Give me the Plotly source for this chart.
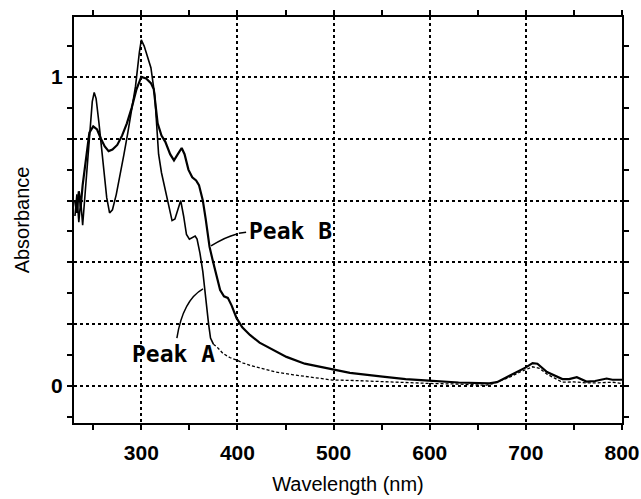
import plotly.graph_objects as go

# ---- data ----
wl_B = [231, 233, 235, 237, 239, 241, 243, 246, 250, 254, 258, 262, 266, 270, 275,
        280, 285, 290, 295, 300, 305, 310, 313, 317, 321, 325, 330, 334, 338, 342,
        345, 349, 353, 357, 360, 364, 367, 371, 374, 378, 382, 386, 390, 394, 399,
        405, 413, 423, 435, 451, 470, 499, 517, 551, 575, 599, 630, 662, 670, 683,
        694, 700, 707, 712, 722, 730, 738, 745, 753, 763, 772, 784, 790, 800]
abs_B = [0.60, 0.56, 0.63, 0.58, 0.65, 0.70, 0.76, 0.82, 0.84, 0.83, 0.80, 0.775, 0.76, 0.765, 0.78,
         0.81, 0.85, 0.90, 0.96, 1.00, 0.995, 0.98, 0.96, 0.85, 0.81, 0.79, 0.75, 0.73, 0.75, 0.77,
         0.75, 0.70, 0.675, 0.665, 0.65, 0.60, 0.54, 0.45, 0.41, 0.36, 0.31, 0.29, 0.285, 0.26, 0.22,
         0.19, 0.165, 0.14, 0.12, 0.094, 0.072, 0.052, 0.042, 0.030, 0.022, 0.017, 0.011, 0.008, 0.012, 0.033,
         0.050, 0.060, 0.074, 0.072, 0.045, 0.034, 0.022, 0.022, 0.028, 0.014, 0.016, 0.024, 0.020, 0.020]

wl_A = [231, 233, 235, 237, 239, 241, 243, 246, 249, 251, 253, 256, 260, 264, 267,
        270, 274, 278, 282, 286, 290, 294, 298, 300, 303, 307, 310, 314, 316, 318,
        321, 325, 329, 332, 335, 338, 341, 344, 347, 350, 353, 356, 358, 361, 364,
        367, 370, 372, 375,
        379, 385, 392, 399, 406, 415, 423, 440, 458, 480, 499, 517, 560, 600, 630,
        658, 665, 683, 694, 700, 707, 714, 722, 730, 738, 750, 763, 775, 790, 800]
abs_A = [0.55, 0.62, 0.53, 0.60, 0.52, 0.60, 0.70, 0.80, 0.92, 0.95, 0.93, 0.85, 0.73, 0.61, 0.56,
         0.57, 0.62, 0.68, 0.75, 0.82, 0.89, 0.97, 1.08, 1.12, 1.10, 1.06, 1.03, 0.94, 0.85, 0.75,
         0.69, 0.63, 0.57, 0.535, 0.54, 0.57, 0.60, 0.55, 0.49, 0.475, 0.48, 0.485, 0.475, 0.43, 0.37,
         0.28, 0.20, 0.155, 0.135,
         0.125, 0.105, 0.092, 0.084, 0.074, 0.065, 0.058, 0.045, 0.036, 0.026, 0.019, 0.018, 0.012, 0.008, 0.006,
         0.002, 0.007, 0.028, 0.045, 0.053, 0.062, 0.057, 0.038, 0.025, 0.012, 0.013, 0.010, 0.010, 0.012, 0.008]
A_dash_from = 375  # Peak A spectrum drawn dashed beyond this wavelength

y_label_alias = {"0.2": "", "0.4": "", "0.6": "", "0.8": ""}

# ---- figure ----
fig = go.Figure()

iA = wl_A.index(A_dash_from)
fig.add_trace(go.Scatter(x=wl_A[:iA + 1], y=abs_A[:iA + 1], mode="lines",
                         line=dict(color="black", width=1.6), showlegend=False))
fig.add_trace(go.Scatter(x=wl_A[iA:], y=abs_A[iA:], mode="lines",
                         line=dict(color="black", width=1.3, dash="3px,2px"), showlegend=False))
fig.add_trace(go.Scatter(x=wl_B, y=abs_B, mode="lines",
                         line=dict(color="black", width=2.2), showlegend=False))

# leader lines
fig.add_shape(type="path", xref="x", yref="y",
              path="M 372.5 0.453 Q 387 0.482 399.5 0.492",
              line=dict(color="black", width=1.5))
fig.add_shape(type="line", xref="x", yref="y", x0=401.5, y0=0.494, x1=409, y1=0.497,
              line=dict(color="black", width=1.5))
fig.add_shape(type="path", xref="x", yref="y",
              path="M 364.2 0.314 Q 343.4 0.278 337 0.155",
              line=dict(color="black", width=1.5))

label_font = dict(family="DejaVu Sans Mono", size=23, color="black", weight="bold")
fig.add_annotation(x=455.7, y=0.502, xref="x", yref="y", text="Peak B",
                   showarrow=False, font=label_font)
fig.add_annotation(x=333, y=0.1036, xref="x", yref="y", text="Peak A",
                   showarrow=False, font=label_font)

tick_font = dict(family="Liberation Sans", size=21, color="black", weight="bold")
title_font = dict(family="Liberation Sans", size=20, color="black")

fig.update_xaxes(range=[230, 800], tickmode="linear", tick0=300, dtick=100,
                 ticks="outside", ticklen=5, tickwidth=1.5, tickcolor="black",
                 ticklabelstandoff=5,
                 showline=True, linewidth=2, linecolor="black", mirror="ticks",
                 showgrid=True, gridcolor="black", griddash="dot", gridwidth=1.5,
                 minor=dict(tick0=250, dtick=50, ticks="outside",
                            ticklen=5, tickwidth=1.5, tickcolor="black", showgrid=False),
                 tickfont=tick_font, zeroline=False,
                 title=dict(text="Wavelength (nm)", font=title_font, standoff=14))
fig.update_yaxes(range=[-0.12, 1.194], tickmode="linear", tick0=0, dtick=0.2,
                 labelalias=y_label_alias,
                 ticks="outside", ticklen=5, tickwidth=1.5, tickcolor="black",
                 showline=True, linewidth=2, linecolor="black", mirror="ticks",
                 showgrid=True, gridcolor="black", griddash="dot", gridwidth=1.5,
                 minor=dict(tick0=0, dtick=0.1, ticks="outside",
                            ticklen=5, tickwidth=1.5, tickcolor="black", showgrid=False),
                 tickfont=tick_font, zeroline=False,
                 title=dict(text="Absorbance", font=title_font, standoff=16))

fig.update_layout(width=641, height=499,
                  margin=dict(l=74, r=19, t=17, b=76, autoexpand=False),
                  plot_bgcolor="white", paper_bgcolor="white")

fig.write_html("out.html")
